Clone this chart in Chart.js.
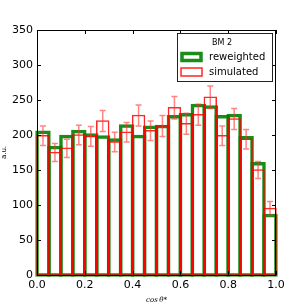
<!DOCTYPE html>
<html>
<head>
<meta charset="utf-8">
<script src="https://cdn.jsdelivr.net/npm/chart.js@4.4.1/dist/chart.umd.min.js"></script>
<style>
html, body { margin: 0; padding: 0; background: #fff; }
#wrap { width: 307px; height: 307px; }
</style>
</head>
<body>
<div id="wrap"><canvas id="myChart"></canvas></div>
<script>
// bin centres of cos(theta*) histogram, width 0.05
const binCenters = [0.025, 0.075, 0.125, 0.175, 0.225, 0.275, 0.325, 0.375, 0.425, 0.475,
                    0.525, 0.575, 0.625, 0.675, 0.725, 0.775, 0.825, 0.875, 0.925, 0.975];
const reweighted = [204, 182, 198, 205, 200, 197, 193, 213, 198, 211,
                    212, 226, 229, 242, 240, 226, 228, 196, 159, 85];
const simulated  = [199, 175, 181, 200, 198, 220, 190, 204, 228, 206,
                    213, 239, 216, 229, 254, 199, 223, 194, 150, 95];
const simErr     = [14, 13, 13, 14, 14, 15, 14, 14, 15, 14,
                    15, 16, 15, 15, 16, 14, 15, 14, 12, 10];
const xTicks = [0, 0.2, 0.4, 0.6, 0.8, 1.0];
const yTicks = [0, 50, 100, 150, 200, 250, 300, 350];

const green = 'rgba(0,128,0,0.9)';
const red = 'rgba(255,0,0,0.85)';

const errorBars = {
    id: 'errorBars',
    afterDatasetsDraw(chart) {
        const {ctx, scales: {x, y}} = chart;
        ctx.save();
        ctx.strokeStyle = 'rgba(255,50,50,0.6)';
        ctx.lineWidth = 1.5;
        simulated.forEach((v, i) => {
            const px = x.getPixelForValue(binCenters[i]);
            const top = y.getPixelForValue(v + simErr[i]);
            const bot = y.getPixelForValue(v - simErr[i]);
            ctx.beginPath();
            ctx.moveTo(px, top); ctx.lineTo(px, bot);
            ctx.moveTo(px - 3, top); ctx.lineTo(px + 3, top);
            ctx.moveTo(px - 3, bot); ctx.lineTo(px + 3, bot);
            ctx.stroke();
        });
        ctx.restore();
    }
};

// frame, inward ticks and legend box
const frameAndLegend = {
    id: 'frameAndLegend',
    afterDraw(chart) {
        const {ctx, chartArea: a, scales: {x, y}} = chart;
        ctx.save();
        ctx.strokeStyle = '#000';
        ctx.lineWidth = 1;
        ctx.strokeRect(a.left + 0.5, a.top + 0.5, a.right - a.left - 1, a.bottom - a.top);
        ctx.beginPath();
        xTicks.forEach(t => {
            const px = Math.round(x.getPixelForValue(t)) + 0.5;
            ctx.moveTo(px, a.bottom); ctx.lineTo(px, a.bottom - 4);
            ctx.moveTo(px, a.top); ctx.lineTo(px, a.top + 4);
        });
        yTicks.forEach(t => {
            const py = Math.round(y.getPixelForValue(t)) + 0.5;
            ctx.moveTo(a.left, py); ctx.lineTo(a.left + 4, py);
            ctx.moveTo(a.right, py); ctx.lineTo(a.right - 4, py);
        });
        ctx.stroke();

        // legend
        const lx = 177, ly = 33, lw = 95, lh = 48;
        ctx.fillStyle = '#fff';
        ctx.fillRect(lx, ly, lw, lh);
        ctx.strokeStyle = '#222';
        ctx.strokeRect(lx + 0.5, ly + 0.5, lw, lh);
        ctx.fillStyle = '#000';
        ctx.font = '8px "DejaVu Sans"';
        ctx.textAlign = 'center';
        ctx.textBaseline = 'middle';
        ctx.fillText('BM 2', 222, 43);
        ctx.strokeStyle = green;
        ctx.lineWidth = 3.5;
        ctx.strokeRect(182, 53.5, 19, 7);
        ctx.strokeStyle = red;
        ctx.lineWidth = 1.5;
        ctx.strokeRect(181, 68, 21, 8);
        ctx.fillStyle = '#000';
        ctx.font = '10px "DejaVu Sans"';
        ctx.textAlign = 'left';
        ctx.fillText('reweighted', 209, 57.5);
        ctx.fillText('simulated', 209, 72);
        ctx.restore();
    }
};

new Chart('myChart', {
    type: 'bar',
    data: {
        datasets: [{
            label: 'simulated',
            data: binCenters.map((c, i) => ({x: c, y: simulated[i]})),
            backgroundColor: 'rgba(0,0,0,0)',
            borderColor: red,
            borderWidth: 0.01,
            inflateAmount: 0.75,
            borderSkipped: false,
            grouped: false,
            clip: 4,
            barPercentage: 1,
            categoryPercentage: 1
        }, {
            label: 'reweighted',
            data: binCenters.map((c, i) => ({x: c, y: reweighted[i]})),
            backgroundColor: 'rgba(0,0,0,0)',
            borderColor: green,
            borderWidth: 0.01,
            inflateAmount: 1.75,
            borderSkipped: false,
            grouped: false,
            clip: 4,
            barPercentage: 1,
            categoryPercentage: 1
        }]
    },
    options: {
        responsive: true,
        maintainAspectRatio: false,
        animation: false,
        layout: { padding: { top: 30, right: 31, left: 0, bottom: 0 } },
        plugins: { legend: { display: false }, tooltip: { enabled: false } },
        scales: {
            x: {
                type: 'linear',
                min: 0, max: 1,
                offset: false,
                grid: { display: false, drawTicks: false },
                border: { display: false },
                afterBuildTicks: axis => { axis.ticks = xTicks.map(v => ({value: v})); },
                afterFit: axis => { axis.height = 32; },
                ticks: {
                    color: '#000',
                    padding: 4,
                    maxRotation: 0,
                    font: { family: 'DejaVu Sans', size: 11 },
                    callback: v => v.toFixed(1)
                },
                title: {
                    display: true,
                    text: 'cos\u2009θ*',
                    color: '#000',
                    padding: { top: 0, bottom: 3 },
                    font: { family: 'DejaVu Serif', style: 'italic', size: 7 }
                }
            },
            y: {
                min: 0, max: 350,
                grid: { display: false, drawTicks: false },
                border: { display: false },
                afterBuildTicks: axis => { axis.ticks = yTicks.map(v => ({value: v})); },
                afterFit: axis => { axis.width = 37; },
                ticks: {
                    color: '#000',
                    padding: 4,
                    font: { family: 'DejaVu Sans', size: 11 }
                },
                title: {
                    display: true,
                    text: 'a.u.',
                    color: '#000',
                    padding: { top: 0, bottom: 0 },
                    font: { family: 'DejaVu Sans', size: 7 }
                }
            }
        }
    },
    plugins: [errorBars, frameAndLegend]
});
</script>
</body>
</html>
